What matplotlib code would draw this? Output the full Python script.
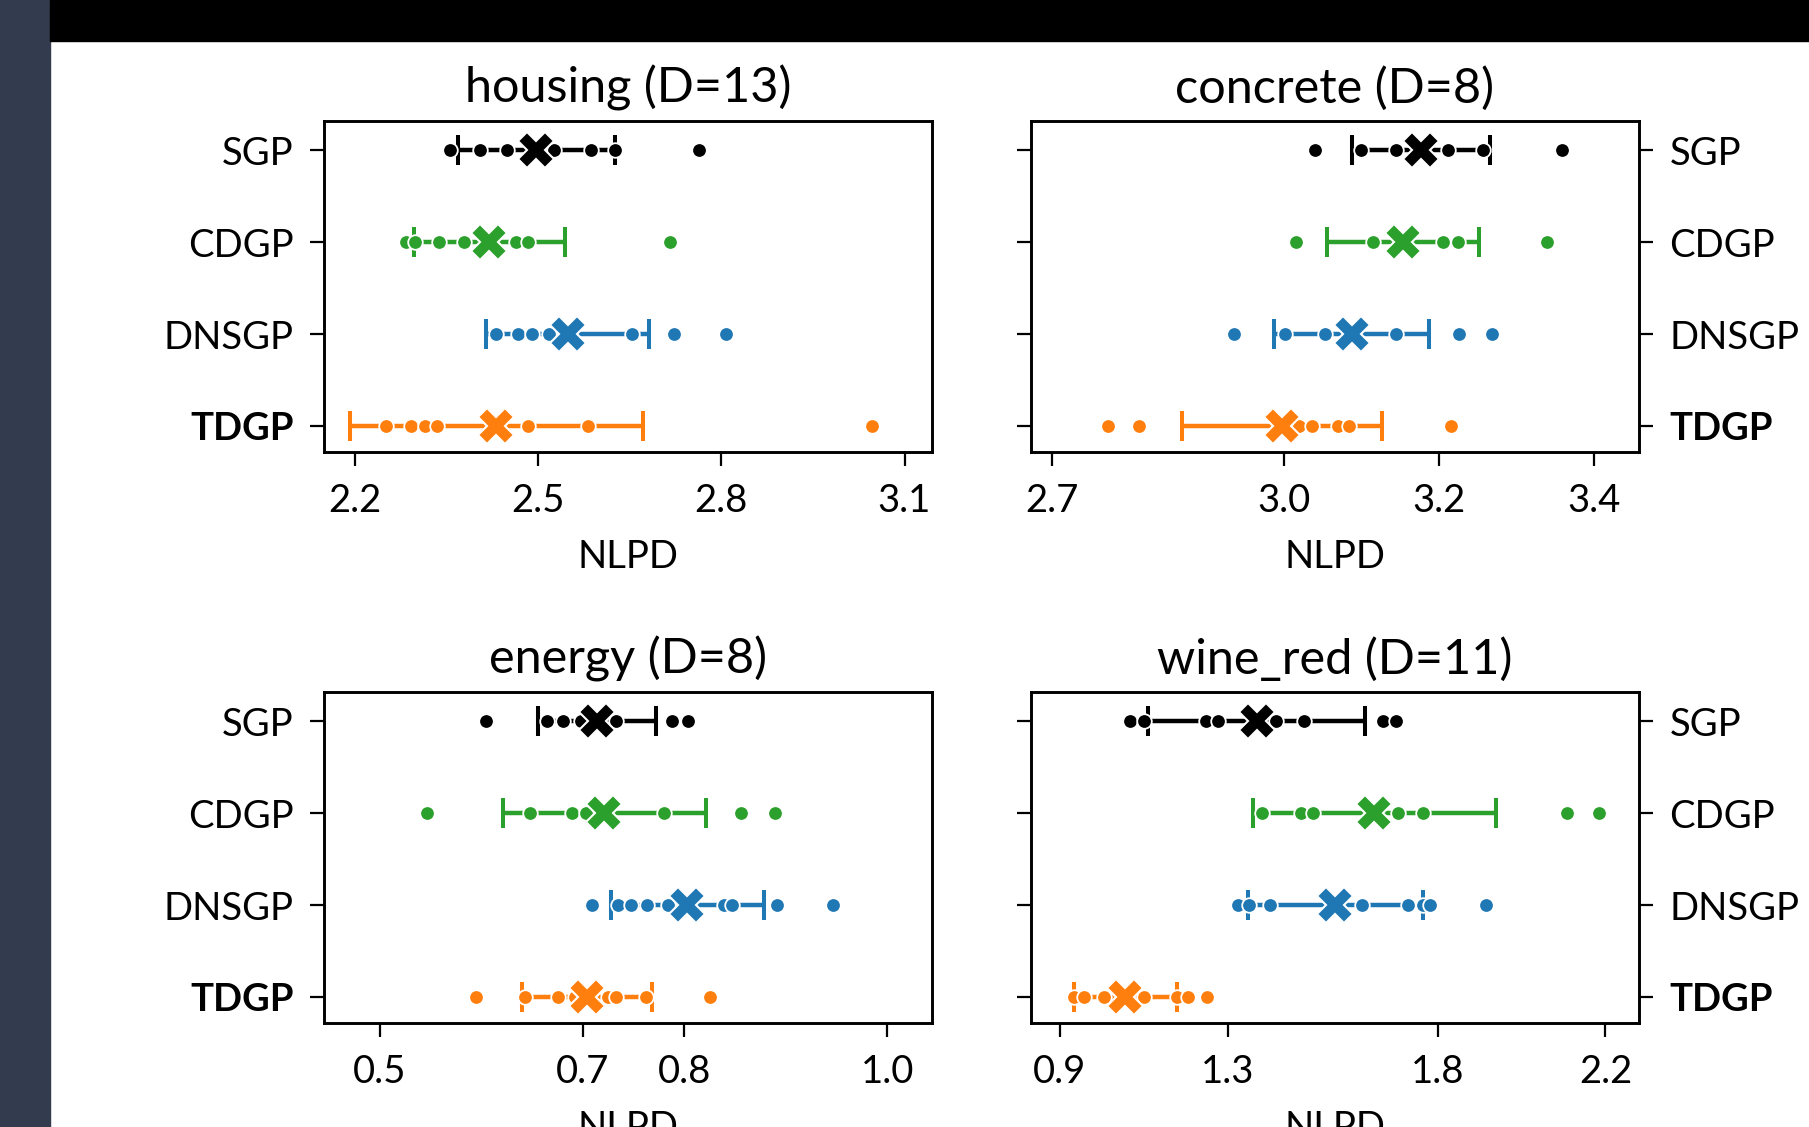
import matplotlib.pyplot as plt
from matplotlib.patches import Rectangle

plt.rcParams["font.family"] = ["Lato", "DejaVu Sans"]

methods = ["SGP", "CDGP", "DNSGP", "TDGP"]
colors = ["black", "#2ca02c", "#1f77b4", "#ff7f0e"]

titles = ["housing (D=13)", "concrete (D=8)", "energy (D=8)", "wine_red (D=11)"]

# per-run NLPD values (visible dots), one list per method
housing_runs = [
    [2.355, 2.404, 2.448, 2.526, 2.587, 2.626, 2.764],
    [2.284, 2.298, 2.337, 2.378, 2.464, 2.484, 2.716],
    [2.430, 2.467, 2.489, 2.518, 2.653, 2.722, 2.808],
    [2.251, 2.291, 2.315, 2.334, 2.484, 2.582, 3.047],
]
housing_mean = [2.497, 2.420, 2.548, 2.431]
housing_std = [0.128, 0.123, 0.134, 0.240]

concrete_runs = [
    [3.040, 3.099, 3.144, 3.211, 3.256, 3.359],
    [3.015, 3.115, 3.205, 3.224, 3.339],
    [2.935, 3.001, 3.052, 3.144, 3.225, 3.268],
    [2.773, 2.813, 3.019, 3.036, 3.070, 3.084, 3.215],
]
concrete_mean = [3.176, 3.153, 3.087, 2.997]
concrete_std = [0.089, 0.098, 0.100, 0.129]

energy_runs = [
    [0.605, 0.665, 0.680, 0.698, 0.733, 0.788, 0.804],
    [0.546, 0.648, 0.689, 0.703, 0.780, 0.856, 0.889],
    [0.709, 0.735, 0.747, 0.763, 0.784, 0.839, 0.847, 0.891, 0.946],
    [0.595, 0.643, 0.676, 0.692, 0.725, 0.733, 0.762, 0.825],
]
energy_mean = [0.714, 0.721, 0.803, 0.704]
energy_std = [0.058, 0.100, 0.075, 0.064]

wine_runs = [
    [1.066, 1.100, 1.248, 1.277, 1.415, 1.482, 1.671, 1.701],
    [1.381, 1.474, 1.504, 1.706, 1.765, 2.108, 2.184],
    [1.325, 1.351, 1.401, 1.620, 1.729, 1.765, 1.783, 1.915],
    [0.934, 0.957, 1.004, 1.100, 1.179, 1.206, 1.251],
]
wine_mean = [1.369, 1.649, 1.556, 1.056]
wine_std = [0.258, 0.290, 0.209, 0.123]

xticks = [[2.2, 2.5, 2.8, 3.1], [2.7, 3.0, 3.2, 3.4], [0.5, 0.7, 0.8, 1.0], [0.9, 1.3, 1.8, 2.2]]
xlims = [(2.149, 3.145), (2.673, 3.458), (0.445, 1.044), (0.831, 2.280)]

panels = [
    (housing_runs, housing_mean, housing_std),
    (concrete_runs, concrete_mean, concrete_std),
    (energy_runs, energy_mean, energy_std),
    (wine_runs, wine_mean, wine_std),
]

W, H = 1809, 1127
fig = plt.figure(figsize=(W / 100, H / 100), dpi=100)

# screenshot frame: dark strip left, black bar on top
fig.patches.append(Rectangle((0, 0), 50 / W, 1, transform=fig.transFigure, color="#323c4e", zorder=0))
fig.patches.append(Rectangle((50 / W, 1 - 41 / H), 1, 41 / H, transform=fig.transFigure, color="black", zorder=0))

lefts = [324, 1031]
tops = [121, 692]
aw, ah = 608, 331

for k, (runs, mean, std) in enumerate(panels):
    col, row = k % 2, k // 2
    ax = fig.add_axes([lefts[col] / W, 1 - (tops[row] + ah) / H, aw / W, ah / H])
    for i in range(len(methods)):
        c = colors[i]
        ax.errorbar(mean[i], i, xerr=std[i], color=c, lw=3.2, capsize=11, capthick=2.9, zorder=1)
        ax.plot(runs[i], [i] * len(runs[i]), "o", ms=10.5, mfc=c, mec="white", mew=1.3, zorder=2)
        ax.plot(mean[i], i, "X", ms=26, mfc=c, mec="white", mew=1.5, zorder=3)

    ax.set_ylim(3.28, -0.32)
    ax.set_yticks(range(len(methods)))
    ax.set_yticklabels(methods)
    ax.set_xlim(*xlims[k])
    ax.set_xticks(xticks[k])
    ax.set_xticklabels([f"{t:.1f}" for t in xticks[k]])
    ax.tick_params(labelsize=27.5, length=10, width=1.6, pad=12)
    if col == 1:
        ax.tick_params(axis="y", left=True, right=True, labelleft=False, labelright=True)
    tdgp = ax.yaxis.get_major_ticks()[3]
    tdgp.label1.set_fontweight("bold")
    tdgp.label2.set_fontweight("bold")
    ax.set_xlabel("NLPD", fontsize=27.5, labelpad=15)
    ax.set_title(titles[k], fontsize=35, pad=13)
    for s in ax.spines.values():
        s.set_linewidth(2.1)

fig.savefig("out.png", dpi=100)
